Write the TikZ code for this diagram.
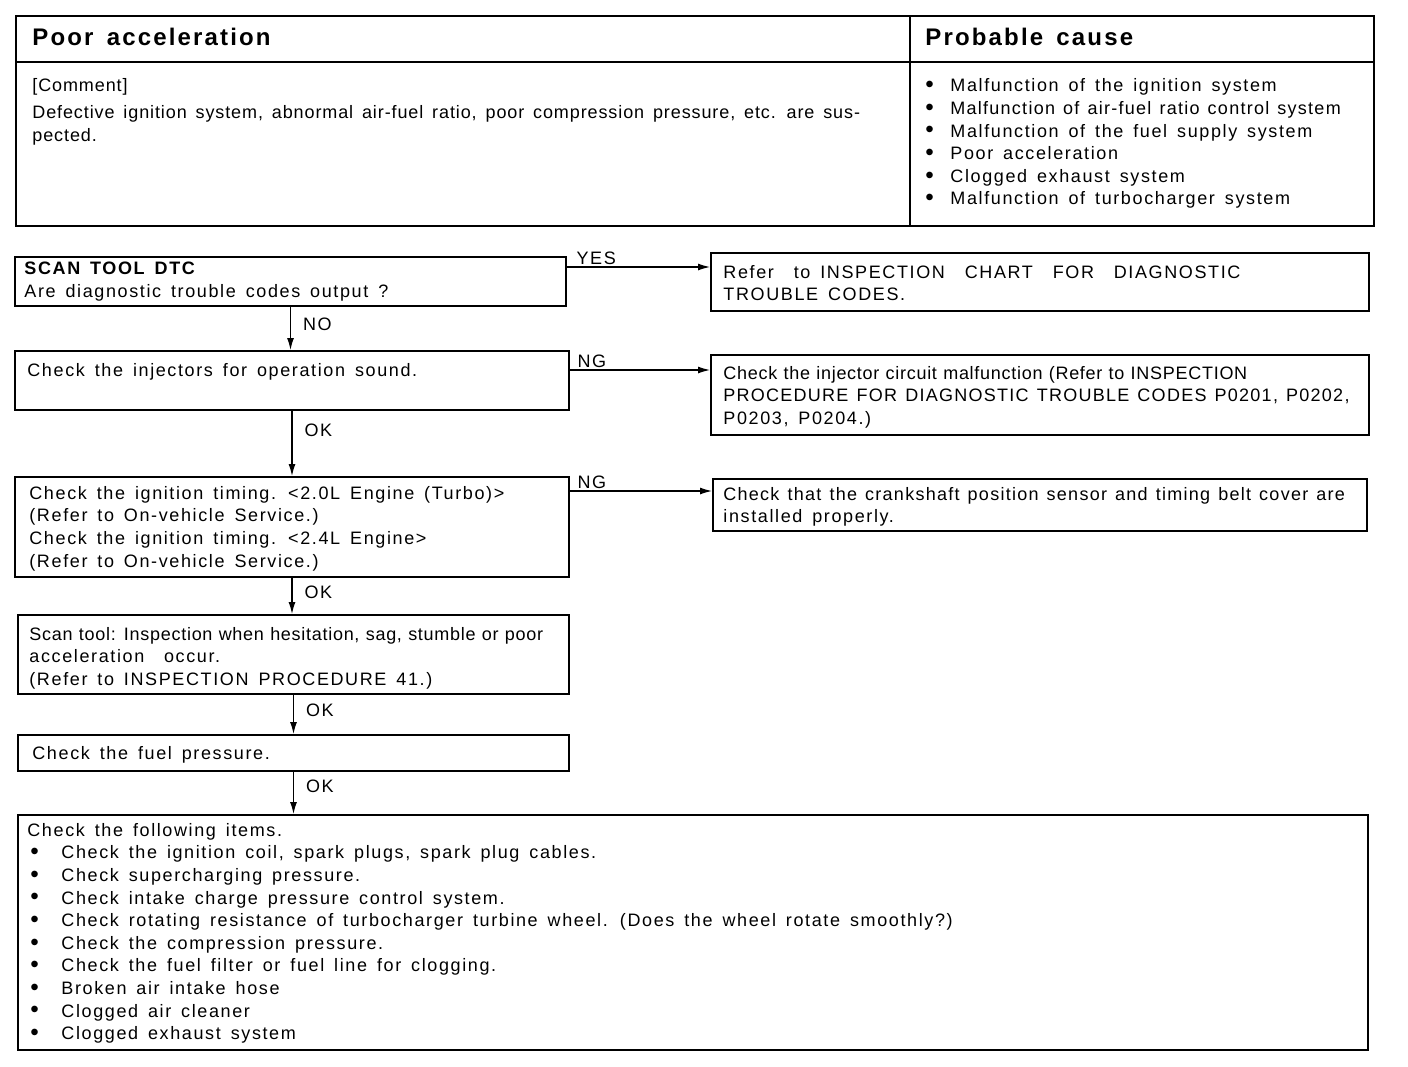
\documentclass[tikz,border=0pt]{standalone}
\usepackage{fontspec}
\setmainfont[LetterSpace=9, WordSpace=1.5]{Liberation Sans}
\newfontfamily\tightfont[LetterSpace=4, WordSpace=1.1]{Liberation Sans}
\newfontfamily\midfont[LetterSpace=7, WordSpace=1.3]{Liberation Sans}
\usetikzlibrary{arrows.meta, positioning, fit, calc}
\newcommand{\bigbul}{\raisebox{-0.4pt}{\scalebox{1.35}{\textbullet}}}
\newcommand{\bul}{\makebox[12.5pt][l]{\bigbul}}
\newcommand{\ibul}{\hspace*{1.5pt}\makebox[15.5pt][l]{\bigbul}}
\tikzset{
  cell/.style   = {rectangle, draw, line width=1pt, inner sep=0pt},
  chkbox/.style = {rectangle, draw, line width=1pt, inner sep=0pt},
  txt/.style    = {anchor=north west, align=left, inner sep=0pt, yshift=6.3pt,
                   font=\fontsize{9}{11.3}\selectfont, execute at begin node=\strut},
  oneline/.style= {yshift=1.1pt},
  headtxt/.style= {anchor=base west, inner sep=0pt,
                   font=\fontsize{12}{14}\selectfont\bfseries},
  arrow/.style  = {-{Latex[length=6pt, width=3.5pt]}, line width=0.6pt},
  lbl/.style    = {font=\fontsize{9}{11}\selectfont, inner sep=1pt},
}
\begin{document}
\begin{tikzpicture}[x=0.5pt, y=-0.5pt]
\useasboundingbox (0,0) rectangle (1408,1066);

% top table
\node[cell, fit={(16,16) (910,62)}]   (hcond)  {};
\node[cell, fit={(910,16) (1374,62)}] (hcause) {};
\node[cell, fit={(16,62) (910,226)}]  (bcond)  {};
\node[cell, fit={(910,62) (1374,226)}](bcause) {};

\node[headtxt] (hcondt)  at ($(hcond.north west)+(17,30)$)  {Poor acceleration};
\node[headtxt] (hcauset) at ($(hcause.north west)+(16,30)$) {Probable cause};
\node[txt] (bcondt) at ($(bcond.north west)+(17,30)$)
  {\addfontfeature{LetterSpace=5}[Comment]\\[2pt]
   \addfontfeature{LetterSpace=5}Defective ignition system, abnormal air-fuel ratio, poor compression pressure, etc. are sus-\\
   \addfontfeature{LetterSpace=5}pected.};
\node[txt] (bcauset) at ($(bcause.north west)+(16,30)$)
  {\bul Malfunction of the ignition system\\
   \bul \midfont Malfunction of air-fuel ratio control system\\
   \bul Malfunction of the fuel supply system\\
   \bul Poor acceleration\\
   \bul Clogged exhaust system\\
   \bul Malfunction of turbocharger system};

% flow boxes
\node[chkbox, fit={(15,257) (566,306)}]   (dtc)    {};
\node[chkbox, fit={(711,253) (1369,311)}] (dtcref) {};
\node[chkbox, fit={(15,351) (569,410)}]   (inj)    {};
\node[chkbox, fit={(711,355) (1369,435)}] (injref) {};
\node[chkbox, fit={(15,477) (569,577)}]   (tim)    {};
\node[chkbox, fit={(713,479) (1367,531)}] (timref) {};
\node[chkbox, fit={(18,615) (569,694)}]   (scan)   {};
\node[chkbox, fit={(18,735) (569,771)}]   (fuel)   {};
\node[chkbox, fit={(18,815) (1368,1050)}] (items)  {};

\node[txt] (dtct) at ($(dtc.north west)+(10,18.5)$)
  {\textbf{SCAN TOOL DTC}\\ Are diagnostic trouble codes output ?};
\node[txt] (dtcreft) at ($(dtcref.north west)+(13,25.5)$)
  {Refer\ \ to INSPECTION\ \ CHART\ \ FOR\ \ DIAGNOSTIC\\ TROUBLE CODES.};
\node[txt, oneline] (injt) at ($(inj.north west)+(13,25.5)$)
  {Check the injectors for operation sound.};
\node[txt] (injreft) at ($(injref.north west)+(13,24.5)$)
  {\tightfont Check the injector circuit malfunction (Refer to INSPECTION\\
   \midfont PROCEDURE FOR DIAGNOSTIC TROUBLE CODES P0201, P0202,\\
   P0203, P0204.)};
\node[txt] (timt) at ($(tim.north west)+(15,22.5)$)
  {Check the ignition timing. <2.0L Engine (Turbo)>\\
   (Refer to On-vehicle Service.)\\
   Check the ignition timing. <2.4L Engine>\\
   (Refer to On-vehicle Service.)};
\node[txt] (timreft) at ($(timref.north west)+(11,21.5)$)
  {\midfont Check that the crankshaft position sensor and timing belt cover are\\
   installed properly.};
\node[txt] (scant) at ($(scan.north west)+(12,25.5)$)
  {\tightfont Scan tool: Inspection when hesitation, sag, stumble or poor\\
   acceleration\ \ occur.\\
   (Refer to INSPECTION PROCEDURE 41.)};
\node[txt, oneline] (fuelt) at ($(fuel.north west)+(15,24.5)$)
  {Check the fuel pressure.};
\node[txt] (itemst) at ($(items.north west)+(10,21.5)$)
  {Check the following items.\\
   \ibul Check the ignition coil, spark plugs, spark plug cables.\\
   \ibul Check supercharging pressure.\\
   \ibul Check intake charge pressure control system.\\
   \ibul Check rotating resistance of turbocharger turbine wheel. (Does the wheel rotate smoothly?)\\
   \ibul Check the compression pressure.\\
   \ibul Check the fuel filter or fuel line for clogging.\\
   \ibul Broken air intake hose\\
   \ibul Clogged air cleaner\\
   \ibul Clogged exhaust system};

% connectors
\coordinate (yes) at ($(dtc.north east)+(0,11)$);
\coordinate (ng1) at ($(inj.north east)+(0,20)$);
\coordinate (ng2) at ($(tim.north east)+(0,15)$);
\draw[arrow] (yes) -- node[lbl, pos=0, anchor=south west, xshift=3.5pt]{YES} (yes -| dtcref.west);
\draw[arrow] (ng1) -- node[lbl, pos=0, anchor=south west, xshift=2.5pt]{NG} (ng1 -| injref.west);
\draw[arrow] (ng2) -- node[lbl, pos=0, anchor=south west, xshift=2.5pt]{NG} (ng2 -| timref.west);

\draw[arrow] (dtc.south)  -- node[lbl, right=5pt, pos=0.4]{NO} (dtc.south |- inj.north);
\draw[arrow] (inj.south)  -- node[lbl, right=5pt, pos=0.3]{OK} (inj.south |- tim.north);
\draw[arrow] (tim.south)  -- node[lbl, right=5pt, pos=0.4]{OK} (tim.south |- scan.north);
\draw[arrow] (scan.south) -- node[lbl, right=5pt, pos=0.4]{OK} (scan.south |- fuel.north);
\draw[arrow] (fuel.south) -- node[lbl, right=5pt, pos=0.35]{OK} (fuel.south |- items.north);

\end{tikzpicture}
\end{document}
